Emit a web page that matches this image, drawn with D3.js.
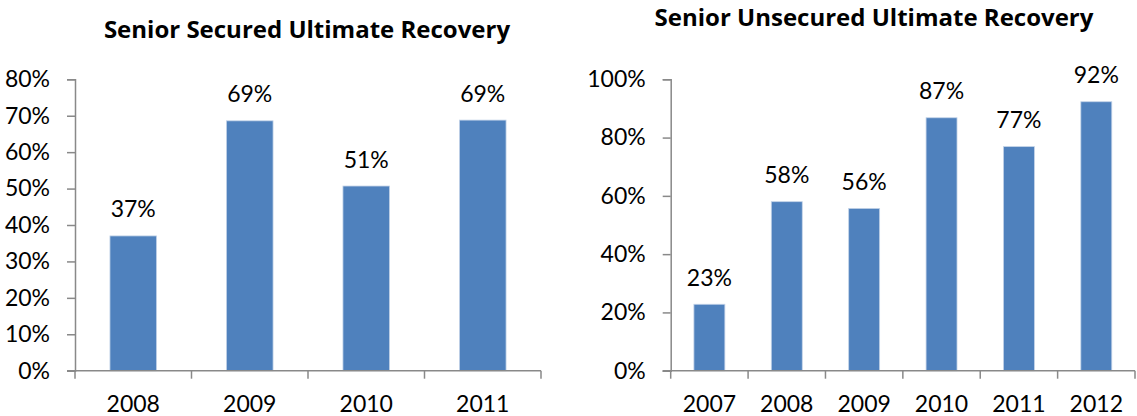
<!DOCTYPE html>
<html>
<head>
<meta charset="utf-8">
<script src="https://cdn.jsdelivr.net/npm/d3@7"></script>
<style>
  body { margin: 0; background: #fff; }
  text { font-family: Lato, 'Open Sans', sans-serif; fill: #000; }
</style>
</head>
<body>
<div id="chart"></div>
<script>
// data
var securedYears = ['2008', '2009', '2010', '2011'];
var securedValues = [0.37, 0.686, 0.507, 0.688];
var securedLabels = ['37%', '69%', '51%', '69%'];
var securedTicks = [0, 0.1, 0.2, 0.3, 0.4, 0.5, 0.6, 0.7, 0.8];

var unsecuredYears = ['2007', '2008', '2009', '2010', '2011', '2012'];
var unsecuredValues = [0.228, 0.58, 0.557, 0.868, 0.769, 0.923];
var unsecuredLabels = ['23%', '58%', '56%', '87%', '77%', '92%'];
var unsecuredTicks = [0, 0.2, 0.4, 0.6, 0.8, 1.0];

var width = 1137;
var height = 416;
var barColor = '#4f81bd';
var axisColor = '#898989';
var labelSize = '23px';

var svg = d3.select('#chart').append('svg')
            .attr('width', width)
            .attr('height', height);

function drawPanel(opts) {
  var g = svg.append('g');

  var x = d3.scaleBand()
            .domain(opts.years)
            .range([opts.left, opts.right])
            .paddingInner(0.6)
            .paddingOuter(0.3);

  var y = d3.scaleLinear()
            .domain([0, opts.max])
            .range([370.7, 79.3]);

  // title
  g.append('text')
   .attr('x', opts.titleX)
   .attr('y', opts.titleY)
   .attr('text-anchor', 'middle')
   .attr('font-size', '24px')
   .attr('font-weight', 'bold')
   .style('font-family', "'Open Sans', sans-serif")
   .text(opts.title);

  // y axis
  var yAxis = d3.axisLeft(y)
                .tickValues(opts.ticks)
                .tickSize(8)
                .tickPadding(17)
                .tickFormat(d3.format('.0%'));

  var yg = g.append('g')
            .attr('transform', 'translate(' + opts.left + ',0)')
            .call(yAxis);
  yg.selectAll('text').attr('font-size', labelSize).attr('font-family', 'Lato, sans-serif');

  // bars
  var data = opts.years.map(function(d, i) {
    return {year: d, value: opts.values[i], label: opts.labels[i]};
  });

  g.selectAll('rect.bar')
   .data(data)
   .enter()
   .append('rect')
   .attr('class', 'bar')
   .attr('x', function(d) { return x(d.year); })
   .attr('y', function(d) { return y(d.value); })
   .attr('width', x.bandwidth())
   .attr('height', function(d) { return y(0) - y(d.value); })
   .attr('fill', barColor)
   .attr('stroke', '#c3d3e8')
   .attr('stroke-width', 0.8);

  // value labels
  g.selectAll('text.valueLabel')
   .data(data)
   .enter()
   .append('text')
   .attr('class', 'valueLabel')
   .attr('x', function(d) { return x(d.year) + x.bandwidth() / 2; })
   .attr('y', function(d) { return y(d.value) - 18.5; })
   .attr('text-anchor', 'middle')
   .attr('font-size', labelSize)
   .text(function(d) { return d.label; });

  // x axis line + boundary ticks
  var step = x.step();
  var bounds = d3.range(opts.years.length + 1).map(function(i) { return opts.left + i * step; });

  g.append('line')
   .attr('x1', opts.left - 8)
   .attr('x2', opts.right)
   .attr('y1', y(0))
   .attr('y2', y(0))
   .attr('stroke', axisColor)
   .attr('stroke-width', 1.5);

  g.selectAll('line.xtick')
   .data(bounds)
   .enter()
   .append('line')
   .attr('class', 'xtick')
   .attr('x1', function(d) { return d; })
   .attr('x2', function(d) { return d; })
   .attr('y1', y(0))
   .attr('y2', y(0) + 8)
   .attr('stroke', axisColor)
   .attr('stroke-width', 1.5);

  g.selectAll('text.xlabel')
   .data(opts.years)
   .enter()
   .append('text')
   .attr('class', 'xlabel')
   .attr('x', function(d) { return x(d) + x.bandwidth() / 2; })
   .attr('y', 411.5)
   .attr('text-anchor', 'middle')
   .attr('font-size', labelSize)
   .text(function(d) { return d; });

  yg.select('.domain').attr('stroke', axisColor).attr('stroke-width', 1.5);
  yg.selectAll('.tick line').attr('stroke', axisColor).attr('stroke-width', 1.5);
  yg.selectAll('text').attr('fill', '#000');
}

drawPanel({
  title: 'Senior Secured Ultimate Recovery',
  titleX: 307, titleY: 38,
  years: securedYears, values: securedValues, labels: securedLabels,
  ticks: securedTicks, max: 0.8,
  left: 75, right: 541
});

drawPanel({
  title: 'Senior Unsecured Ultimate Recovery',
  titleX: 874, titleY: 26,
  years: unsecuredYears, values: unsecuredValues, labels: unsecuredLabels,
  ticks: unsecuredTicks, max: 1.0,
  left: 670.7, right: 1135
});
</script>
</body>
</html>
